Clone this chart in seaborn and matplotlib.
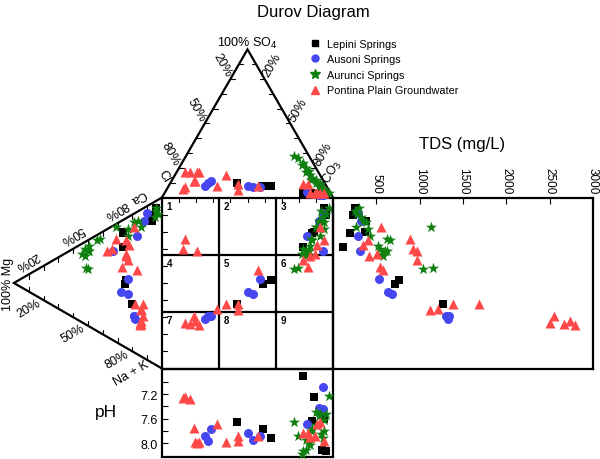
import numpy as np
import pandas as pd
import matplotlib
matplotlib.use("Agg")
import matplotlib.pyplot as plt
from matplotlib.lines import Line2D
import seaborn as sns

# ion shares in meq %, TDS in mg/L
lepini_hco3 = [39, 55, 60, 81, 88, 93, 95, 92, 86]
lepini_so4 = [10, 8, 8, 3, 2, 3, 2, 3, 3]
lepini_cl = [51, 37, 32, 16, 10, 4, 3, 5, 11]
lepini_ca = [28, 37, 40, 58, 67, 92, 87, 83, 66]
lepini_mg = [20, 25, 24, 26, 26, 4, 6, 7, 26]
lepini_nak = [52, 38, 36, 16, 7, 4, 7, 10, 8]
lepini_tds = [1270, 716, 762, 110, 369, 254, 231, 380, 196]
lepini_ph = [7.65, 7.77, 7.92, 6.90, 7.25, 7.61, 8.13, 8.12, 7.64]

ausoni_hco3 = [21, 22, 23, 46, 50, 54, 83, 93, 91, 93]
ausoni_so4 = [8, 10, 11, 8, 7, 7, 4, 2, 2, 2]
ausoni_cl = [71, 68, 66, 46, 43, 39, 13, 5, 7, 5]
ausoni_ca = [20, 21, 21, 31, 32, 41, 69, 86, 80, 52]
ausoni_mg = [18, 19, 19, 28, 23, 23, 17, 10, 12, 33]
ausoni_nak = [62, 60, 60, 41, 45, 36, 14, 4, 8, 15]
ausoni_tds = [1327, 1300, 1340, 638, 684, 531, 294, 290, 320, 311]
ausoni_ph = [7.89, 7.97, 7.77, 7.84, 7.95, 7.89, 7.69, 7.09, 7.42, 7.45]

aurunci_hco3 = [63, 66, 71, 71, 76, 79, 81, 81, 84, 88, 92, 96, 94, 91, 88, 93, 85, 90, 74, 77]
aurunci_so4 = [28, 27, 23, 22, 17, 15, 13, 12, 12, 9, 5, 3, 4, 6, 8, 4, 10, 6, 20, 18]
aurunci_cl = [9, 7, 6, 7, 7, 6, 6, 7, 4, 3, 3, 1, 2, 3, 4, 3, 5, 4, 6, 5]
aurunci_ca = [33, 33, 44, 40, 44, 47, 53, 55, 67, 66, 70, 92, 89, 86, 78, 76, 76, 90, 40, 44]
aurunci_mg = [50, 51, 52, 54, 49, 49, 44, 42, 31, 23, 23, 4, 3, 5, 16, 19, 14, 4, 52, 50]
aurunci_nak = [17, 16, 4, 6, 7, 4, 3, 3, 2, 11, 7, 4, 8, 9, 6, 5, 10, 6, 8, 6]
aurunci_tds = [1035, 1157, 540, 562, 620, 523, 658, 627, 1127, 430,
               400, 300, 280, 320, 350, 380, 270, 250, 577, 600]
aurunci_ph = [7.66, 7.89, 8.13, 8.18, 8.11, 8.04, 7.77, 7.80, 7.50, 7.53,
              7.80, 7.23, 7.53, 7.91, 7.55, 7.62, 7.70, 7.85, 7.95, 8.00]

pontina_hco3 = [10, 8, 13, 13, 14, 5, 9, 12, 28, 30, 40, 42, 52, 91, 93, 89, 88, 78, 81, 85]
pontina_so4 = [7, 17, 11, 17, 11, 17, 6, 17, 8, 15, 9, 5, 8, 3, 3, 3, 3, 9, 9, 3]
pontina_cl = [83, 75, 76, 70, 75, 78, 85, 71, 64, 55, 51, 53, 40, 6, 4, 8, 9, 13, 10, 12]
pontina_ca = [19, 19, 24, 18, 21, 60, 53, 50, 28, 31, 29, 27, 49, 73, 63, 61, 55, 52, 46, 54]
pontina_mg = [15, 14, 13, 15, 14, 31, 34, 37, 14, 13, 18, 14, 17, 19, 24, 22, 24, 23, 27, 24]
pontina_nak = [66, 67, 63, 67, 65, 9, 13, 13, 58, 56, 53, 59, 34, 8, 13, 17, 21, 25, 27, 22]
pontina_tds = [2504, 2665, 2554, 2792, 2730, 889, 920, 973, 1208, 1389,
               1685, 1120, 581, 550, 407, 350, 504, 973, 542, 419]
pontina_ph = [7.25, 7.28, 7.76, 7.99, 7.99, 7.25, 7.26, 8.00, 7.69, 7.99,
              7.89, 7.96, 7.88, 7.66, 7.96, 7.69, 7.88, 7.83, 7.83, 7.90]

group_names = ["Lepini Springs", "Ausoni Springs", "Aurunci Springs", "Pontina Plain Groundwater"]
group_markers = ["s", "o", "*", "^"]
group_colors = ["#000000", "#4646f0", "#0f800f", "#ff4848"]
group_sizes = [36, 42, 72, 52]

tds_ticks = [500, 1000, 1500, 2000, 2500, 3000]
ph_ticks = [7.0, 7.2, 7.4, 7.6, 7.8, 8.0]
ph_tick_labels = ["", "7.2", "", "7.6", "", "8.0"]
pct_labels = ["20%", "50%", "80%"]


def make_frame(name, hco3, so4, cl, ca, mg, nak, tds, ph):
    return pd.DataFrame({"group": name, "HCO3": hco3, "SO4": so4, "Cl": cl,
                         "Ca": ca, "Mg": mg, "NaK": nak, "TDS": tds, "pH": ph})


df = pd.concat([
    make_frame(group_names[0], lepini_hco3, lepini_so4, lepini_cl, lepini_ca,
               lepini_mg, lepini_nak, lepini_tds, lepini_ph),
    make_frame(group_names[1], ausoni_hco3, ausoni_so4, ausoni_cl, ausoni_ca,
               ausoni_mg, ausoni_nak, ausoni_tds, ausoni_ph),
    make_frame(group_names[2], aurunci_hco3, aurunci_so4, aurunci_cl, aurunci_ca,
               aurunci_mg, aurunci_nak, aurunci_tds, aurunci_ph),
    make_frame(group_names[3], pontina_hco3, pontina_so4, pontina_cl, pontina_ca,
               pontina_mg, pontina_nak, pontina_tds, pontina_ph),
], ignore_index=True)

# Durov projection: square is the unit box, triangles hang off its top and left sides
SQ = np.sqrt(3) / 2
df["an_pct"] = df.HCO3 + df.SO4 / 2
df["cat_pct"] = df.Ca + df.Mg / 2
df["an_x"] = df.an_pct / 100
df["an_y"] = 1 + SQ * df.SO4 / 100
df["cat_x"] = -SQ * df.Mg / 100
df["cat_y"] = df.cat_pct / 100

pts = pd.concat([
    pd.DataFrame({"group": df.group, "x": df.an_x, "y": df.an_y}),
    pd.DataFrame({"group": df.group, "x": df.cat_x, "y": df.cat_y}),
    pd.DataFrame({"group": df.group, "x": df.an_x, "y": df.cat_y}),
], ignore_index=True)

sns.set_style("white", {"axes.edgecolor": "black", "text.color": "black",
                        "xtick.color": "black", "ytick.color": "black"})
plt.rcParams["font.family"] = ["Liberation Sans", "DejaVu Sans"]

S = 171.0  # pixels per unit of the square
fig = plt.figure(figsize=(6, 4.6), dpi=100)
ax = fig.add_axes([0, 0, 1, 1])
ax.set_xlim(-162 / S, 438 / S)
ax.set_ylim(-90.5 / S, 369.5 / S)
ax.axis("off")

LW = 1.6
k = dict(color="black", lw=LW, solid_joinstyle="miter", zorder=2)
ax.plot([0, 0.5, 1], [1, 1 + SQ, 1], **k)
ax.plot([0, -SQ, 0], [1, 0.5, 0], **k)
ax.plot([0, 1, 1, 0, 0], [0, 0, 1, 1, 0], **k)
for f in (1 / 3, 2 / 3):
    ax.plot([f, f], [0, 1], **k)
    ax.plot([0, 1], [f, f], **k)

# inward ticks every 10 %
tl = 4.5 / S
tk = dict(color="black", lw=0.8, zorder=2)
for t in np.arange(0.1, 0.95, 0.1):
    ax.plot([t, t], [1, 1 - tl], **tk)
    ax.plot([0, tl], [t, t], **tk)
    x, y = 0.5 * t, 1 + SQ * t
    ax.plot([x, x + tl], [y, y], **tk)
    x = 1 - 0.5 * t
    ax.plot([x, x - tl], [y, y], **tk)
    x, y = -SQ + SQ * t, 0.5 + 0.5 * t
    ax.plot([x, x], [y, y - tl], **tk)
    y = 0.5 - 0.5 * t
    ax.plot([x, x], [y, y + tl], **tk)

# field numbers
for i in range(9):
    c, r = i % 3, i // 3
    ax.text(c / 3 + 7.5 / S, 1 - r / 3 - 8.5 / S, str(i + 1), fontsize=7,
            fontweight="bold", ha="center", va="center")

# side labels
fs = 9
for t, lab in zip([0.8, 0.5, 0.2], pct_labels):
    ax.text(0.5 * t - 8.6 / S, 1 + SQ * t + 14.3 / S, lab, rotation=-60,
            ha="center", va="center", fontsize=fs)
    ax.text(1 - 0.5 * t + 7.5 / S, 1 + SQ * t + 14 / S, lab, rotation=60,
            ha="center", va="center", fontsize=fs)
for t, lab in zip([0.2, 0.5, 0.8], pct_labels):
    ax.text(-SQ + SQ * t - 16.3 / S, 0.5 + 0.5 * t + 6.1 / S, lab, rotation=210,
            ha="center", va="center", fontsize=fs)
    ax.text(-SQ + SQ * t - 15.2 / S, 0.5 - 0.5 * t - 7.7 / S, lab, rotation=30,
            ha="center", va="center", fontsize=fs)

ax.text(0.5, 1 + SQ + 7 / S, "100% SO$_4$", ha="center", va="center", fontsize=fs)
ax.text(1.5 / S, 1 + 22 / S, "Cl", rotation=-60, ha="center", va="center", fontsize=fs)
ax.text(1 - 3 / S, 1 + 22 / S, "HCO$_3$", rotation=60, ha="center", va="center", fontsize=fs)
ax.text(-23.7 / S, 1 + 1.5 / S, "Ca", rotation=210, ha="center", va="center", fontsize=fs)
ax.text(-30.3 / S, -3.8 / S, "Na + K", rotation=30, ha="center", va="center", fontsize=fs)
ax.text(-SQ - 5.5 / S, 0.5, "100% Mg", rotation=90, ha="center", va="center", fontsize=fs)

ax.text(151 / S, 357.5 / S, "Durov Diagram", ha="center", va="center", fontsize=12)
ax.text(300 / S, 224.5 / S, "TDS (mg/L)", ha="center", va="center", fontsize=12)
ax.text(-56 / S, -43.5 / S, "pH", ha="center", va="center", fontsize=12.5)

# TDS and pH side boxes get their own axes, laid exactly on the main frame
to_fig = ax.transData + fig.transFigure.inverted()


def box(x0, y0, x1, y1):
    (a, b), (c, d) = to_fig.transform([(x0, y0), (x1, y1)])
    return [a, b, c - a, d - b]


ax_tds = fig.add_axes(box(1, 0, 1 + 260 / S, 1))
ax_ph = fig.add_axes(box(0, -88 / S, 1, 0))

for g, m, col, s in zip(group_names, group_markers, group_colors, group_sizes):
    sub = df[df.group == g]
    sns.scatterplot(data=pts[pts.group == g], x="x", y="y", marker=m, color=col,
                    s=s, linewidth=0, ax=ax, legend=False, zorder=3)
    sns.scatterplot(data=sub, x="TDS", y="cat_pct", marker=m, color=col, s=s,
                    linewidth=0, ax=ax_tds, legend=False, clip_on=False, zorder=3)
    sns.scatterplot(data=sub, x="an_pct", y="pH", marker=m, color=col, s=s,
                    linewidth=0, ax=ax_ph, legend=False, clip_on=False, zorder=3)

ax.set_xlim(-162 / S, 438 / S)
ax.set_ylim(-90.5 / S, 369.5 / S)

ax_tds.set_xlim(0, 3000)
ax_tds.set_ylim(0, 100)
ax_tds.xaxis.tick_top()
ax_tds.set_xticks(tds_ticks)
ax_tds.set_xticklabels([str(v) for v in tds_ticks])
ax_tds.set_yticks([])
ax_tds.tick_params(axis="x", direction="in", length=4, width=0.8, labelsize=8.5,
                   labelrotation=-90, pad=3, top=True, bottom=False)

ax_ph.set_xlim(0, 100)
ax_ph.set_ylim(8.22, 6.78)
ax_ph.set_xticks([])
ax_ph.set_yticks(ph_ticks)
ax_ph.set_yticklabels(ph_tick_labels)
ax_ph.tick_params(axis="y", direction="in", length=4, width=0.8, labelsize=9,
                  pad=3, left=True)

for a in (ax_tds, ax_ph):
    a.set_xlabel("")
    a.set_ylabel("")
    a.patch.set_alpha(0)
    for sp in a.spines.values():
        sp.set_visible(True)
        sp.set_linewidth(LW)
        sp.set_color("black")

handles = [Line2D([], [], marker=m, color=c, linestyle="", markersize=ms)
           for m, c, ms in zip(group_markers, group_colors, [4.5, 5, 7, 5.5])]
fig.legend(handles, group_names, loc="upper left", bbox_to_anchor=(310.5 / 600, 1 - 39.5 / 460),
           frameon=False, fontsize=7.8, handlelength=0.8, handletextpad=0.7,
           labelspacing=0.52, borderpad=0, borderaxespad=0)

fig.savefig("out.png", dpi=100)
